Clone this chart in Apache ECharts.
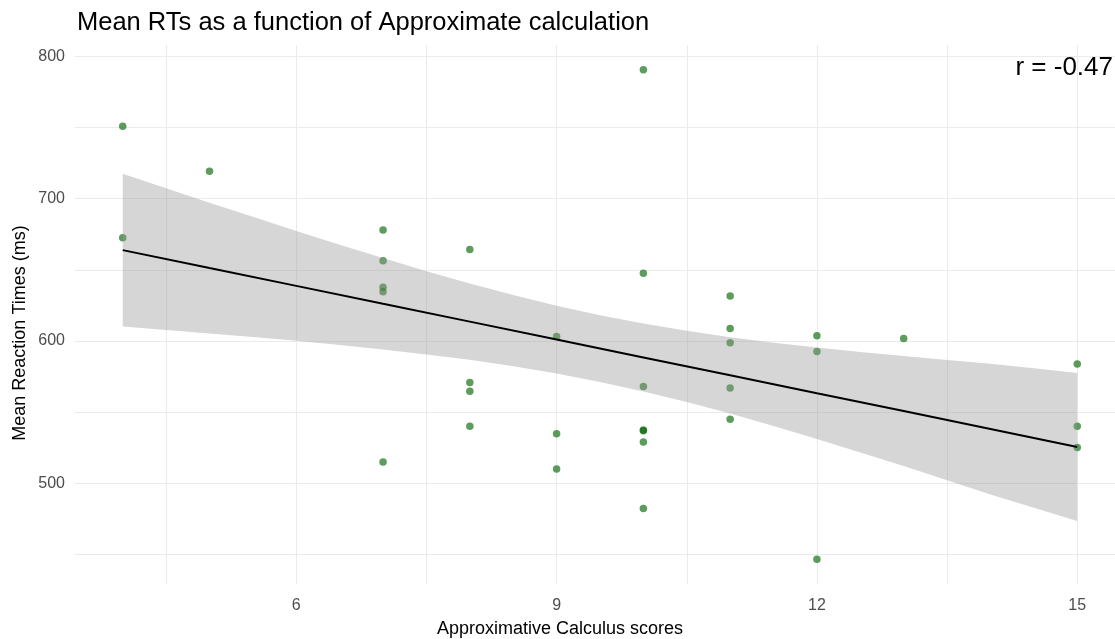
<!DOCTYPE html>
<html>
<head>
<meta charset="utf-8">
<title>Mean RTs</title>
<script src="https://cdn.jsdelivr.net/npm/echarts@6/dist/echarts.min.js"></script>
<style>
  html, body { margin: 0; padding: 0; background: #fff; }
  #chart { width: 1115px; height: 639px; }
</style>
</head>
<body>
<div id="chart"></div>
<script>
// scores and mean RTs per participant
const scoreX = [4, 4, 5, 7, 7, 7, 7, 7, 8, 8, 8, 8, 9, 9, 9, 10, 10, 10, 10, 10, 10, 10, 11, 11, 11, 11, 11, 12, 12, 12, 13, 15, 15, 15];
const rtY = [750.8, 672.4, 719.1, 678.0, 656.3, 637.7, 634.6, 515.1, 664.3, 570.9, 564.8, 540.1, 603.1, 534.9, 510.2, 790.5, 647.5, 568.1, 537.5, 537.0, 529.1, 482.4, 631.6, 608.7, 598.7, 567.0, 545.0, 603.6, 592.6, 446.7, 601.8, 583.8, 540.1, 525.2];

// regression line
const fitX = [4, 5, 6, 7, 8, 9, 10, 11, 12, 13, 14, 15];
const fitY = [663.8, 651.2, 638.7, 626.1, 613.6, 601.0, 588.4, 575.9, 563.3, 550.8, 538.2, 525.6];

// confidence band edges
const bandX = [4, 4.5, 5, 5.5, 6, 6.5, 7, 7.5, 8, 8.5, 9, 9.5, 10, 10.5, 11, 11.5, 12, 12.5, 13, 13.5, 14, 14.5, 15];
const bandUpper = [717.4, 707.2, 697.1, 687.2, 677.3, 667.6, 658.2, 649.0, 640.4, 632.3, 624.8, 618.1, 612.2, 607.2, 602.7, 598.8, 595.4, 592.2, 589.4, 586.7, 584.1, 580.9, 577.6];
const bandLower = [610.2, 607.8, 605.3, 602.8, 600.1, 597.2, 594.0, 590.6, 586.8, 582.3, 577.2, 571.3, 564.6, 557.2, 549.1, 540.4, 531.2, 521.8, 512.2, 502.3, 492.3, 482.9, 473.6];

// grid lines (major + minor) and labelled ticks
const xTicks = [4.5, 6, 7.5, 9, 10.5, 12, 13.5, 15];
const xLabels = [6, 9, 12, 15];
const yTicks = [450, 500, 550, 600, 650, 700, 750, 800];
const yLabels = [500, 600, 700, 800];

const fontFamily = '"Liberation Sans", Arial, sans-serif';
const tickText = { fontFamily: fontFamily, fontSize: 16, color: '#4d4d4d' };
const gridLine = { lineStyle: { color: '#ebebeb', width: 1.1 } };

const chart = echarts.init(document.getElementById('chart'));

chart.setOption({
  animation: false,
  title: {
    text: 'Mean RTs as a function of Approximate calculation',
    left: 72,
    top: 5,
    textStyle: { fontFamily: fontFamily, fontSize: 25.5, fontWeight: 'normal', color: '#000' }
  },
  // panel runs a little past the right edge of the picture
  grid: { left: 75, top: 45, right: 0, height: 539 },
  xAxis: {
    type: 'value',
    min: 3.45,
    max: 15.435,
    axisLine: { show: false },
    axisTick: { show: false, customValues: xTicks },
    axisLabel: Object.assign({ margin: 14, customValues: xLabels }, tickText),
    splitLine: gridLine
  },
  yAxis: {
    type: 'value',
    min: 429.4,
    max: 807.8,
    axisLine: { show: false },
    axisTick: { show: false, customValues: yTicks },
    axisLabel: Object.assign({ margin: 10, customValues: yLabels }, tickText),
    splitLine: gridLine
  },
  graphic: [
    {
      type: 'text',
      right: 2,
      top: 55,
      style: { text: 'r = -0.47', fontFamily: fontFamily, fontSize: 26, fill: '#000' }
    },
    {
      // x axis title
      type: 'text',
      x: 560,
      y: 629,
      style: {
        text: 'Approximative Calculus scores', fontFamily: fontFamily, fontSize: 18,
        fill: '#000', align: 'center', verticalAlign: 'middle'
      }
    },
    {
      // y axis title
      type: 'text',
      x: 20,
      y: 333,
      rotation: Math.PI / 2,
      style: {
        text: 'Mean Reaction Times (ms)', fontFamily: fontFamily, fontSize: 18,
        fill: '#000', align: 'center', verticalAlign: 'middle'
      }
    }
  ],
  series: [
    {
      type: 'scatter',
      z: 2,
      symbolSize: 7.5,
      itemStyle: { color: 'rgba(0,100,0,0.8)' },
      data: scoreX.map((x, i) => [x, rtY[i]])
    },
    {
      // grey band drawn over the points like geom_smooth
      type: 'custom',
      z: 3,
      clip: true,
      silent: true,
      data: [[bandX[0], bandUpper[0]]],
      renderItem: (params, api) => {
        const pts = [];
        bandX.forEach((x, i) => pts.push(api.coord([x, bandUpper[i]])));
        for (let i = bandX.length - 1; i >= 0; i--) {
          pts.push(api.coord([bandX[i], bandLower[i]]));
        }
        return {
          type: 'polygon',
          shape: { points: pts },
          style: { fill: 'rgba(153,153,153,0.4)' }
        };
      }
    },
    {
      type: 'line',
      z: 4,
      showSymbol: false,
      lineStyle: { color: '#000', width: 2 },
      data: fitX.map((x, i) => [x, fitY[i]])
    }
  ]
});
</script>
</body>
</html>
